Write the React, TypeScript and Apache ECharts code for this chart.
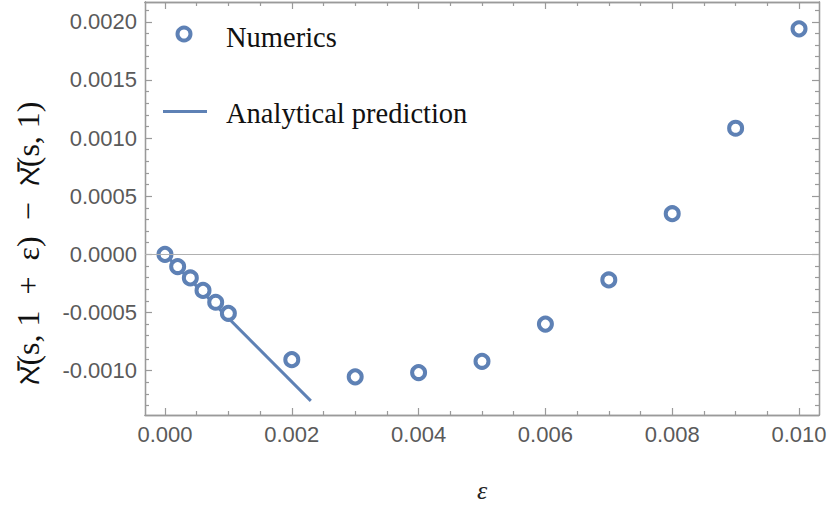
import React, { useEffect, useRef } from "react";
import * as echarts from "echarts";

const epsNumerics = [0, 0.0002, 0.0004, 0.0006, 0.0008, 0.001, 0.002, 0.003, 0.004, 0.005, 0.006, 0.007, 0.008, 0.009, 0.01];
const diffNumerics = [0, -0.000105, -0.000203, -0.00031, -0.000412, -0.000507, -0.000906, -0.001054, -0.001017, -0.00092, -0.0006, -0.00022, 0.00035, 0.001085, 0.00194];
const epsPrediction = [0, 0.0023];
const diffPrediction = [0, -0.00126];

const xMajorTicks = [0, 0.002, 0.004, 0.006, 0.008, 0.01];
const xMinorTicks = [0.0005, 0.001, 0.0015, 0.0025, 0.003, 0.0035, 0.0045, 0.005, 0.0055, 0.0065, 0.007, 0.0075, 0.0085, 0.009, 0.0095, 0.0105];
const yMajorTicks = [-0.001, -0.0005, 0, 0.0005, 0.001, 0.0015, 0.002];
const yMinorTicks = [-0.0013, -0.0012, -0.0011, -0.0009, -0.0008, -0.0007, -0.0006, -0.0004, -0.0003, -0.0002, -0.0001, 0.0001, 0.0002, 0.0003, 0.0004, 0.0006, 0.0007, 0.0008, 0.0009, 0.0011, 0.0012, 0.0013, 0.0014, 0.0016, 0.0017, 0.0018, 0.0019, 0.0021];

const yTitle = "ℵ\u0304(s, 1\u2002+\u2002ε)\u2002−\u2002ℵ\u0304(s, 1)";
const xTitle = "ε";

const X_MIN = -0.000315;
const X_MAX = 0.010315;
const Y_MIN = -0.001382;
const Y_MAX = 0.002171;

const BLUE = "#5E81B5";
const FRAME = "#9a9a9a";
const LABEL = "#5a5a5a";
const SERIF = "'Liberation Serif', 'DejaVu Serif', serif";

export default function App() {
  const ref = useRef<HTMLDivElement>(null);
  useEffect(() => {
    document.body.style.margin = "0";
    if (!ref.current) return;
    const chart = echarts.init(ref.current, null, { renderer: "svg" });

    const baseX = (pos: "bottom" | "top", ticks: number[], len: number, labels: boolean, name?: string) => ({
      type: "value",
      position: pos,
      min: X_MIN,
      max: X_MAX,
      name: name,
      nameLocation: "middle",
      nameGap: 62,
      nameTextStyle: { fontFamily: SERIF, fontStyle: "italic", fontSize: 26, color: "#222" },
      axisLine: { show: true, onZero: false, lineStyle: { color: FRAME, width: 1.3 } },
      axisTick: { show: true, inside: true, length: len, customValues: ticks, lineStyle: { color: FRAME, width: 1.2 } },
      axisLabel: labels
        ? { show: true, customValues: ticks, margin: 8, fontFamily: "Liberation Sans", fontSize: 22, color: LABEL, formatter: (v: number) => v.toFixed(3) }
        : { show: false },
      splitLine: { show: false },
      minorTick: { show: false },
    });
    const baseY = (pos: "left" | "right", ticks: number[], len: number, labels: boolean) => ({
      type: "value",
      position: pos,
      min: Y_MIN,
      max: Y_MAX,
      axisLine: { show: true, onZero: false, lineStyle: { color: FRAME, width: 1.3 } },
      axisTick: { show: true, inside: true, length: len, customValues: ticks, lineStyle: { color: FRAME, width: 1.2 } },
      axisLabel: labels
        ? { show: true, customValues: ticks, margin: 8, fontFamily: "Liberation Sans", fontSize: 22, color: LABEL, formatter: (v: number) => v.toFixed(4) }
        : { show: false },
      splitLine: { show: false },
      minorTick: { show: false },
    });

    chart.setOption({
      animation: false,
      grid: { left: 145, right: 11, top: 2, bottom: 90 },
      xAxis: [
        baseX("bottom", xMajorTicks, 7, true, xTitle),
        baseX("bottom", xMinorTicks, 4, false),
        baseX("top", xMajorTicks, 7, false),
        baseX("top", xMinorTicks, 4, false),
      ],
      yAxis: [
        baseY("left", yMajorTicks, 7, true),
        baseY("left", yMinorTicks, 4, false),
        baseY("right", yMajorTicks, 7, false),
        baseY("right", yMinorTicks, 4, false),
      ],
      series: [
        {
          type: "line",
          name: "Analytical prediction",
          data: epsPrediction.map((x, i) => [x, diffPrediction[i]]),
          showSymbol: false,
          symbol: "none",
          lineStyle: { color: BLUE, width: 3 },
          z: 2,
          markLine: {
            silent: true,
            symbol: "none",
            label: { show: false },
            lineStyle: { color: "#b0b0b0", width: 1, type: "solid" },
            data: [{ yAxis: 0 }],
          },
        },
        {
          type: "scatter",
          name: "Numerics",
          data: epsNumerics.map((x, i) => [x, diffNumerics[i]]),
          symbol: "circle",
          symbolSize: 13,
          itemStyle: { color: "#ffffff", borderColor: BLUE, borderWidth: 4, opacity: 1 },
          z: 3,
        },
      ],
      graphic: [
        {
          type: "text",
          x: 28,
          y: 243,
          rotation: Math.PI / 2,
          style: { text: yTitle, fontFamily: SERIF, fontSize: 32, fill: "#111", align: "center", verticalAlign: "middle" },
          z: 10,
        },
        { type: "circle", shape: { cx: 184, cy: 34, r: 6.5 }, style: { fill: "#fff", stroke: BLUE, lineWidth: 4 }, z: 10 },
        { type: "text", x: 226, y: 37, style: { text: "Numerics", fontFamily: SERIF, fontSize: 28.5, fill: "#111", verticalAlign: "middle" }, z: 10 },
        { type: "line", shape: { x1: 163, y1: 111.5, x2: 207, y2: 111.5 }, style: { stroke: BLUE, lineWidth: 3 }, z: 10 },
        { type: "text", x: 226, y: 113, style: { text: "Analytical prediction", fontFamily: SERIF, fontSize: 28.5, fill: "#111", verticalAlign: "middle" }, z: 10 },
      ],
    });
    return () => chart.dispose();
  }, []);
  return <div ref={ref} style={{ width: 830, height: 508 }} />;
}
